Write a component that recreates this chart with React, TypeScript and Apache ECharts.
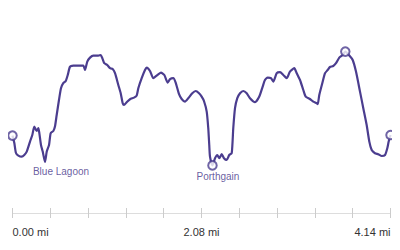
import React, { useEffect, useRef } from "react";
import * as echarts from "echarts";

// distance along route (miles) and elevation (m)
const distances = [
  0, 0.02, 0.038, 0.064, 0.101, 0.129, 0.156, 0.192, 0.217, 0.239, 0.265, 0.283, 0.294, 0.312, 0.331, 0.356,
  0.375, 0.4, 0.418, 0.447, 0.465, 0.484, 0.509, 0.531, 0.556, 0.583, 0.605, 0.63, 0.666, 0.775, 0.794, 0.819,
  0.849, 0.885, 0.94, 0.966, 0.984, 1.005, 1.038, 1.068, 1.097, 1.123, 1.159, 1.185, 1.207, 1.221, 1.251, 1.287,
  1.331, 1.36, 1.378, 1.415, 1.451, 1.47, 1.506, 1.542, 1.579, 1.626, 1.663, 1.7, 1.725, 1.761, 1.787, 1.824,
  1.853, 1.889, 1.925, 1.969, 2.006, 2.043, 2.072, 2.097, 2.127, 2.144, 2.155, 2.163, 2.19, 2.218, 2.243, 2.265,
  2.291, 2.316, 2.346, 2.374, 2.401, 2.418, 2.437, 2.462, 2.492, 2.528, 2.565, 2.601, 2.656, 2.703, 2.74, 2.765,
  2.795, 2.831, 2.856, 2.894, 2.93, 2.966, 3.003, 3.039, 3.086, 3.113, 3.149, 3.185, 3.211, 3.258, 3.294, 3.332,
  3.343, 3.36, 3.393, 3.423, 3.452, 3.477, 3.513, 3.543, 3.579, 3.616, 3.645, 3.689, 3.726, 3.762, 3.806, 3.842,
  3.879, 3.908, 3.934, 3.97, 4.006, 4.044, 4.08, 4.105, 4.12, 4.14,
];
const elevations = [
  38.7, 35, 30, 28.7, 28.2, 29, 30.7, 35.7, 39, 43.2, 41, 42.4, 39.9, 34, 30.7, 25.5,
  30.7, 34, 39.9, 41, 43.2, 49, 56.5, 62.4, 64.9, 66, 69, 73.2, 73.7, 73.7, 71.5, 75.7,
  77.7, 78.7, 78.7, 79, 77.4, 74.9, 74, 72.4, 72, 69.9, 64, 59.9, 54.9, 54, 55.4, 56.9,
  57.7, 58.7, 62.4, 67.4, 71.5, 72.7, 71, 67.4, 68.7, 70.2, 69, 65.2, 66.9, 67.4, 65.2, 59.4,
  57, 55.7, 57.4, 59.9, 61, 59.9, 58.2, 56, 50.7, 42.4, 34, 28.2, 23.8, 27.4, 29, 27.4,
  29.4, 27.4, 26.5, 29, 29.9, 42.4, 52.4, 57.4, 59.9, 61, 59.9, 57.4, 55.4, 58.2, 63.2, 66.5,
  67.7, 67.4, 65.7, 69.9, 70.4, 69, 67.4, 70.7, 72.4, 69.9, 66.5, 61.5, 58.2, 57, 55.7, 54.9,
  54.4, 59, 64.9, 69.9, 71.5, 73, 73.5, 74.9, 77.7, 79, 80.7, 78.7, 76.5, 70.7, 60.7, 52.4,
  44, 35.7, 31.5, 29.9, 29.4, 28.5, 29, 32.4, 35.7, 39,
];

// points shown with a circle marker (distance, miles)
const markerDistances = [0, 2.19, 3.645, 4.14];
// named places
const placeNames = ["Blue Lagoon", "Porthgain"];
const placeDistances = [0.356, 2.19];

// axis
const xMin = 0;
const xMax = 4.14;
const tickInterval = 0.414;
const tickLabels = ["0.00 mi", "2.08 mi", "4.14 mi"];

const COLOR = "#4b3d8f";
const TEXT_COLOR = "#3f3388";

const elevAt = (d: number) => elevations[distances.indexOf(d)];

export default function App() {
  const ref = useRef<HTMLDivElement>(null);
  useEffect(() => {
    if (!ref.current) return;
    const chart = echarts.init(ref.current, null, { renderer: "svg" });
    const labelPositions: Record<string, number[]> = {
      "Blue Lagoon": [16.5, 9.5],
      Porthgain: [6, 11.5],
    };
    const baseAxis = {
      type: "value" as const,
      min: xMin,
      max: xMax,
      interval: tickInterval,
      splitLine: { show: false },
    };
    chart.setOption({
      animation: false,
      grid: { left: 12.5, right: 9.5, top: 39, bottom: 37, containLabel: false },
      xAxis: [
        {
          ...baseAxis,
          axisLine: { show: true, lineStyle: { color: "#dddddd", width: 1 } },
          axisTick: { show: true, length: 5, inside: false, lineStyle: { color: "#cccccc" } },
          axisLabel: {
            show: true,
            margin: 13,
            color: "#333333",
            fontSize: 11,
            fontFamily: "Liberation Sans, Arial, sans-serif",
            alignMinLabel: "left",
            alignMaxLabel: "right",
            formatter: (_v: number, i: number) => (i % 5 === 0 ? tickLabels[i / 5] ?? "" : ""),
          },
        },
        {
          ...baseAxis,
          position: "bottom",
          offset: 0,
          axisLine: { show: false },
          axisTick: { show: true, length: 5, inside: true, lineStyle: { color: "#cccccc" } },
          axisLabel: { show: false },
        },
      ],
      yAxis: {
        type: "value",
        min: 0,
        max: 87,
        show: false,
        splitLine: { show: false },
      },
      series: [
        {
          type: "line",
          data: distances.map((d, i) => [d, elevations[i]]),
          showSymbol: false,
          symbol: "none",
          smooth: 0.2,
          lineStyle: { color: COLOR, width: 2.2 },
          z: 2,
        },
        {
          type: "scatter",
          data: markerDistances.map((d) => [d, elevAt(d)]),
          symbol: "circle",
          symbolSize: 8.5,
          itemStyle: { color: "#ffffff", borderColor: COLOR, borderWidth: 2 },
          z: 3,
        },
        {
          type: "scatter",
          data: placeNames.map((n, i) => ({
            name: n,
            value: [placeDistances[i], elevAt(placeDistances[i])],
            label: { position: labelPositions[n] },
          })),
          symbol: "circle",
          symbolSize: 1,
          itemStyle: { color: "rgba(0,0,0,0)" },
          label: {
            show: true,
            formatter: (p: any) => p.name,
            color: TEXT_COLOR,
            fontSize: 10,
            align: "center",
            verticalAlign: "middle",
            textBorderWidth: 0,
            fontFamily: "Liberation Sans, Arial, sans-serif",
          },
          labelLayout: { hideOverlap: false },
          z: 4,
        },
      ],
    });
    return () => chart.dispose();
  }, []);
  return <div ref={ref} style={{ width: 400, height: 250, margin: -8 }} />;
}
